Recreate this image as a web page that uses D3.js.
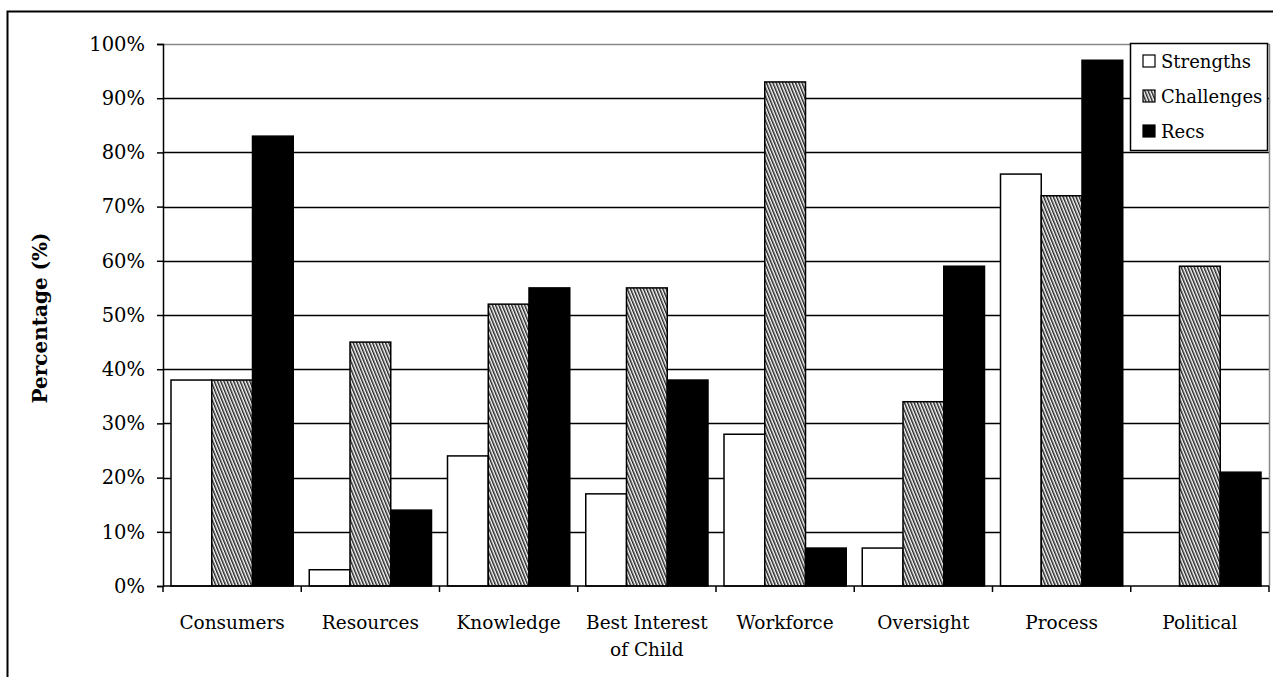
<!DOCTYPE html>
<html>
<head>
<meta charset="utf-8">
<script src="https://cdn.jsdelivr.net/npm/d3@7"></script>
<style>
  body { margin: 0; background: #fff; }
  svg text { font-family: "DejaVu Serif", serif; fill: #000; }
</style>
</head>
<body>
<svg id="chart" width="1273" height="677"></svg>
<script>
// data
var categories = ["Consumers", "Resources", "Knowledge", "Best Interest of Child", "Workforce", "Oversight", "Process", "Political"];
var seriesNames = ["Strengths", "Challenges", "Recs"];
var strengths  = [38, 3, 24, 17, 28, 7, 76, 0];
var challenges = [38, 45, 52, 55, 93, 34, 72, 59];
var recs       = [83, 14, 55, 38, 7, 59, 97, 21];
var yTicks = [0, 10, 20, 30, 40, 50, 60, 70, 80, 90, 100];

var seriesVals = [strengths, challenges, recs];
var fills = ["#fff", "url(#hatch)", "#000"];

var svg = d3.select("#chart");
var margin = {left: 163, right: 1269, top: 44, bottom: 586};

var defs = svg.append("defs");
var pat = defs.append("pattern")
    .attr("id", "hatch")
    .attr("patternUnits", "userSpaceOnUse")
    .attr("width", 3).attr("height", 3)
    .attr("patternTransform", "rotate(-22)");
pat.append("rect").attr("width", 3).attr("height", 3).attr("fill", "#fff");
pat.append("rect").attr("width", 1.5).attr("height", 3).attr("fill", "#222");

// outer frame
svg.append("rect")
    .attr("x", 7.5).attr("y", 11.5)
    .attr("width", 1300).attr("height", 700)
    .attr("fill", "none").attr("stroke", "#000").attr("stroke-width", 2);

var x0 = d3.scaleBand().domain(categories).range([margin.left, margin.right]);
var x1 = d3.scaleBand().domain(seriesNames).range([8, x0.bandwidth() - 8]);
var y = d3.scaleLinear().domain([0, 100]).range([margin.bottom, margin.top]);

// gridlines
svg.append("g").selectAll("line")
    .data(yTicks.filter(d => d > 0 && d < 100))
    .enter().append("line")
    .attr("x1", margin.left).attr("x2", margin.right)
    .attr("y1", d => Math.round(y(d)) + 0.5).attr("y2", d => Math.round(y(d)) + 0.5)
    .attr("stroke", "#000").attr("stroke-width", 1.3);

// plot area border (top/right, grey)
svg.append("path")
    .attr("d", "M" + margin.left + "," + (margin.top + 0.5) + "H" + (margin.right + 0.5) + "V" + margin.bottom)
    .attr("fill", "none").attr("stroke", "#888").attr("stroke-width", 1.5);

// bars
var groups = svg.append("g").selectAll("g")
    .data(categories)
    .enter().append("g")
    .attr("transform", d => "translate(" + x0(d) + ",0)");

groups.selectAll("rect")
    .data((c, i) => seriesNames.map((s, j) => ({s: s, v: seriesVals[j][i], j: j})))
    .enter().append("rect")
    .filter(d => d.v > 0)
    .attr("x", d => x1(d.s))
    .attr("width", x1.bandwidth())
    .attr("y", d => y(d.v))
    .attr("height", d => y(0) - y(d.v))
    .attr("fill", d => fills[d.j])
    .attr("stroke", "#000").attr("stroke-width", 1.5);

// y axis
var yAxis = d3.axisLeft(y).tickValues(yTicks).tickFormat(d => d + "%").tickSize(6).tickPadding(12);
var gy = svg.append("g").attr("transform", "translate(" + margin.left + ",0)").call(yAxis);
gy.selectAll("path, line").attr("stroke", "#000").attr("stroke-width", 1.5);
gy.selectAll("text").style("font-size", "19.5px").style("font-family", "DejaVu Serif");

// x axis
var xAxis = d3.axisBottom(x0).tickSize(0).tickPadding(0).tickFormat("");
var gx = svg.append("g").attr("transform", "translate(0," + margin.bottom + ")").call(xAxis);
gx.select(".domain").attr("stroke", "#000").attr("stroke-width", 1.5).attr("d", "M" + margin.left + ",0H" + margin.right);
// boundary ticks between categories
gx.selectAll(".bound")
    .data(d3.range(categories.length + 1))
    .enter().append("line")
    .attr("x1", i => margin.left + i * x0.step()).attr("x2", i => margin.left + i * x0.step())
    .attr("y1", 0).attr("y2", 6)
    .attr("stroke", "#000").attr("stroke-width", 1.5);

var labels = svg.append("g").selectAll("text")
    .data(categories)
    .enter().append("text")
    .attr("text-anchor", "middle")
    .attr("x", d => x0(d) + x0.bandwidth() / 2)
    .attr("y", 629)
    .style("font-size", "18.5px");
labels.each(function(d) {
    var t = d3.select(this);
    var lines = d === "Best Interest of Child" ? ["Best Interest", "of Child"] : [d];
    lines.forEach(function(l, k) {
        t.append("tspan").attr("x", t.attr("x")).attr("dy", k === 0 ? 0 : 27).text(l);
    });
});

// y title
svg.append("text")
    .attr("transform", "translate(47,318) rotate(-90)")
    .attr("text-anchor", "middle")
    .style("font-size", "20px")
    .style("font-weight", "bold")
    .text("Percentage (%)");

// legend
var lg = svg.append("g").attr("transform", "translate(1130,43)");
lg.append("rect").attr("x", 0.5).attr("y", 0.5).attr("width", 137).attr("height", 107)
    .attr("fill", "#fff").attr("stroke", "#000").attr("stroke-width", 1.5);
var li = lg.selectAll(".li").data(seriesNames).enter().append("g")
    .attr("transform", (d, i) => "translate(0," + (18 + i * 35) + ")");
li.append("rect").attr("x", 13).attr("y", -6).attr("width", 12).attr("height", 12)
    .attr("fill", (d, i) => fills[i]).attr("stroke", "#000").attr("stroke-width", 1.2);
li.append("text").attr("x", 31).attr("y", 6.5).style("font-size", "18px").text(d => d);
</script>
</body>
</html>
